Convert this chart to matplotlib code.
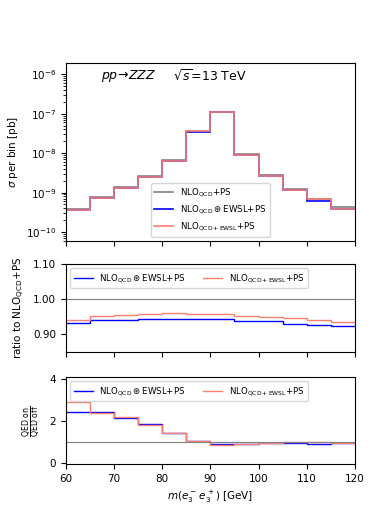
import numpy as np
import matplotlib
matplotlib.use("Agg")
import matplotlib.pyplot as plt

# bin edges in m(e3- e3+) [GeV]
edges = np.arange(60, 125, 5)

# sigma per bin [pb]
nlo_qcd = [3.9e-10, 7.6e-10, 1.38e-9, 2.6e-9, 6.7e-9, 3.7e-8, 1.13e-7, 9.5e-9, 2.8e-9, 1.25e-9, 6.9e-10, 4.2e-10]
nlo_ewsl = [3.6e-10, 7.2e-10, 1.30e-9, 2.5e-9, 6.3e-9, 3.5e-8, 1.08e-7, 9.0e-9, 2.65e-9, 1.17e-9, 6.2e-10, 3.9e-10]
nlo_mix = [3.7e-10, 7.3e-10, 1.32e-9, 2.5e-9, 6.4e-9, 3.6e-8, 1.09e-7, 9.1e-9, 2.7e-9, 1.19e-9, 6.9e-10, 3.9e-10]

# ratio to NLO_QCD+PS
ratio_ewsl = [0.933, 0.940, 0.941, 0.945, 0.945, 0.945, 0.943, 0.937, 0.938, 0.930, 0.927, 0.924]
ratio_mix = [0.941, 0.951, 0.954, 0.958, 0.960, 0.958, 0.957, 0.952, 0.950, 0.946, 0.941, 0.936]

# QED on / QED off
qed_ewsl = [2.45, 2.45, 2.16, 1.85, 1.42, 1.03, 0.89, 0.89, 0.97, 0.94, 0.92, 0.97]
qed_mix = [2.89, 2.37, 2.21, 1.82, 1.42, 1.03, 0.87, 0.89, 0.94, 0.98, 0.98, 0.97]

lab_qcd = r"NLO$_{\rm QCD}$+PS"
lab_ewsl = r"NLO$_{\rm QCD}\circledast$EWSL+PS"
lab_mix = r"NLO$_{\rm QCD+EWSL}$+PS"

c_gray = "gray"
c_blue = "blue"
c_red = "salmon"

plt.rcParams["font.size"] = 7.5
plt.rcParams["xtick.labelsize"] = 7.5
plt.rcParams["ytick.labelsize"] = 7.5

fig = plt.figure(figsize=(3.74, 5.23), dpi=100)
ax1 = fig.add_axes([0.176, 0.539, 0.773, 0.340])
ax2 = fig.add_axes([0.176, 0.327, 0.773, 0.168])
ax3 = fig.add_axes([0.176, 0.113, 0.773, 0.166])


def stairs(ax, vals, **kw):
    ax.stairs(vals, edges, baseline=None, **kw)


# top panel
stairs(ax1, nlo_qcd, color=c_gray, lw=1.2, label=lab_qcd)
stairs(ax1, nlo_ewsl, color=c_blue, lw=1.2, label=lab_ewsl)
stairs(ax1, nlo_mix, color=c_red, lw=1.2, label=lab_mix)
ax1.set_yscale("log")
ax1.set_ylim(10**-10.23, 10**-5.72)
ax1.set_xlim(60, 120)
ax1.set_ylabel(r"$\sigma$ per bin [pb]")
ax1.tick_params(labelbottom=False)
ax1.text(0.12, 0.93, r"$pp\!\to\!ZZZ$", transform=ax1.transAxes, fontsize=9, va="center")
ax1.text(0.37, 0.93, r"$\sqrt{s}$=13 TeV", transform=ax1.transAxes, fontsize=9, va="center")
ax1.legend(loc="lower center", bbox_to_anchor=(0.5, 0.0), fontsize=6.2, handlelength=2.2)

# ratio panel
ax2.axhline(1.0, color=c_gray, lw=0.8)
stairs(ax2, ratio_ewsl, color=c_blue, lw=1.0, label=lab_ewsl)
stairs(ax2, ratio_mix, color=c_red, lw=1.0, label=lab_mix)
ax2.set_xlim(60, 120)
ax2.set_ylim(0.85, 1.10)
ax2.set_yticks([0.90, 1.00, 1.10])
ax2.set_yticklabels(["0.90", "1.00", "1.10"])
ax2.set_ylabel(r"ratio to NLO$_{\rm QCD}$+PS")
ax2.tick_params(labelbottom=False)
ax2.legend(loc="upper left", ncol=2, fontsize=6.2, handlelength=2.2, columnspacing=2.0)

# QED panel
ax3.axhline(1.0, color=c_gray, lw=0.8)
stairs(ax3, qed_ewsl, color=c_blue, lw=1.0, label=lab_ewsl)
stairs(ax3, qed_mix, color=c_red, lw=1.0, label=lab_mix)
ax3.set_xlim(60, 120)
ax3.set_ylim(-0.05, 4.1)
ax3.set_yticks([0, 2, 4])
ax3.set_ylabel(r"$\frac{\rm QED\ on}{\rm QED\ off}$", fontsize=8)
ax3.set_xlabel(r"$m(e_3^-\, e_3^+)$ [GeV]")
ax3.legend(loc="upper left", ncol=2, fontsize=6.2, handlelength=2.2, columnspacing=2.0)

for ax in (ax1, ax2, ax3):
    ax.set_xticks(np.arange(60, 121, 10))

fig.savefig("out.png", dpi=100)
